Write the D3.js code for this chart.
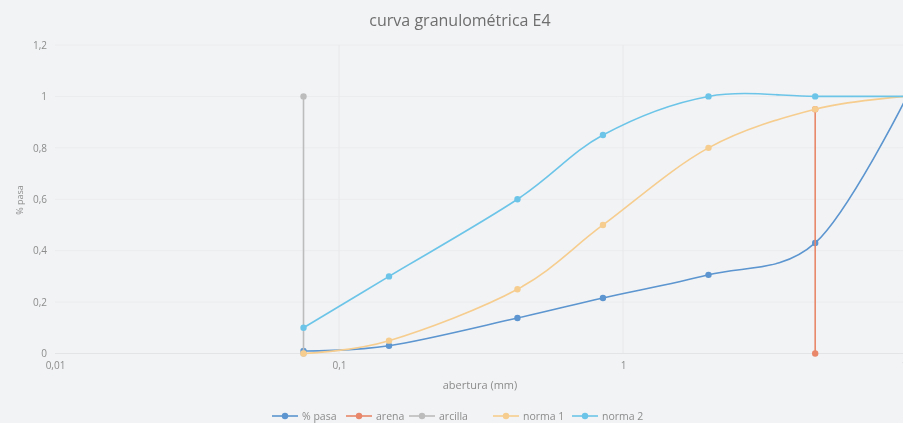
<!DOCTYPE html>
<html>
<head>
<meta charset="utf-8">
<script src="https://cdn.jsdelivr.net/npm/d3@7"></script>
<style>
  html, body { margin: 0; padding: 0; background: #f2f3f5; }
  svg { display: block; font-family: "Open Sans", "Noto Sans", sans-serif; }
</style>
</head>
<body>
<svg id="chart" width="903" height="423"></svg>
<script>
// Sieve openings (mm) and fraction passing
const aberturas = [0.075, 0.15, 0.425, 0.85, 2, 4.75, 10];
const pasa   = [0.01, 0.03, 0.138, 0.216, 0.306, 0.43, 1.0];
const norma1 = [0, 0.05, 0.25, 0.5, 0.8, 0.95, 1.0];
const norma2 = [0.1, 0.3, 0.6, 0.85, 1.0, 1.0, 1.0];
// Boundary markers: sand (4.75 mm) and clay (0.075 mm)
const arenaX = [4.75, 4.75];
const arenaY = [0, 0.95];
const arcillaX = [0.075, 0.075];
const arcillaY = [0, 1];

const xTicks = [0.01, 0.1, 1, 10];
const yTicks = [0, 0.2, 0.4, 0.6, 0.8, 1, 1.2];
const seriesNames = ["% pasa", "arena", "arcilla", "norma 1", "norma 2"];
const seriesColors = ["#5b95cf", "#e8876a", "#bcbcbc", "#f6cd8e", "#6cc5e8"];

const title = "curva granulométrica E4";
const xTitle = "abertura (mm)";
const yTitle = "% pasa";

const svg = d3.select("#chart");
const plotLeft = 55, plotRight = 907, plotTop = 45, plotBottom = 353.5;

const x = d3.scaleLog().domain([0.01, 10]).range([plotLeft, plotRight]);
const y = d3.scaleLinear().domain([0, 1.2]).range([plotBottom, plotTop]);

const defs = svg.append("defs");
defs.append("filter").attr("id", "soft")
  .append("feGaussianBlur").attr("stdDeviation", 0.4);

const root = svg.append("g").attr("filter", "url(#soft)");

// gridlines
root.append("g").selectAll("line").data(yTicks.slice(1)).join("line")
  .attr("x1", plotLeft).attr("x2", plotRight)
  .attr("y1", d => y(d)).attr("y2", d => y(d))
  .attr("stroke", "#ebecee").attr("stroke-width", 1);
root.append("g").selectAll("line").data(xTicks.slice(1)).join("line")
  .attr("y1", plotTop).attr("y2", plotBottom)
  .attr("x1", d => x(d)).attr("x2", d => x(d))
  .attr("stroke", "#e7e8ea").attr("stroke-width", 1);
// baseline
root.append("line").attr("x1", plotLeft).attr("x2", plotRight)
  .attr("y1", y(0)).attr("y2", y(0))
  .attr("stroke", "#e3e4e6").attr("stroke-width", 1);

const fmt = d => String(d).replace(".", ",");

// y axis
const yAxis = d3.axisLeft(y).tickValues(yTicks).tickFormat(fmt).tickSize(0).tickPadding(8);
const gy = root.append("g").attr("transform", `translate(${plotLeft},0)`).call(yAxis);
gy.select(".domain").remove();
gy.selectAll("text").attr("fill", "#8c8c8c").attr("font-size", 10)
  .attr("font-family", "Open Sans, sans-serif");

// x axis
const xAxis = d3.axisBottom(x).tickValues(xTicks).tickFormat(fmt).tickSize(0).tickPadding(8);
const gx = root.append("g").attr("transform", `translate(0,${plotBottom})`).call(xAxis);
gx.select(".domain").remove();
gx.selectAll("text").attr("fill", "#8c8c8c").attr("font-size", 10)
  .attr("font-family", "Open Sans, sans-serif");

// titles
root.append("text").attr("x", 460).attr("y", 26).attr("text-anchor", "middle")
  .attr("font-size", 16).attr("fill", "#6e6e6e").text(title);
root.append("text").attr("x", 480).attr("y", 389).attr("text-anchor", "middle")
  .attr("font-size", 11).attr("fill", "#8c8c8c").text(xTitle);
root.append("text").attr("transform", `translate(23,200) rotate(-90)`)
  .attr("text-anchor", "middle").attr("font-size", 9).attr("fill", "#8c8c8c").text(yTitle);

// series
const series = [
  { name: seriesNames[0], xs: aberturas, ys: pasa,     color: seriesColors[0] },
  { name: seriesNames[1], xs: arenaX,    ys: arenaY,   color: seriesColors[1] },
  { name: seriesNames[2], xs: arcillaX,  ys: arcillaY, color: seriesColors[2] },
  { name: seriesNames[3], xs: aberturas, ys: norma1,   color: seriesColors[3] },
  { name: seriesNames[4], xs: aberturas, ys: norma2,   color: seriesColors[4] }
];

const line = d3.line()
  .x(d => x(d[0])).y(d => y(d[1]))
  .curve(d3.curveCardinal.tension(0));

series.forEach(s => {
  const pts = s.xs.map((v, i) => [v, s.ys[i]]);
  const g = root.append("g");
  g.append("path").attr("d", line(pts)).attr("fill", "none")
    .attr("stroke", s.color).attr("stroke-width", 1.6);
  g.selectAll("circle").data(pts).join("circle")
    .attr("cx", d => x(d[0])).attr("cy", d => y(d[1])).attr("r", 3.2)
    .attr("fill", s.color);
});

// legend
const legendX = [272, 346, 409, 493, 572];
const leg = root.append("g").attr("transform", "translate(0,416)");
series.forEach((s, i) => {
  const g = leg.append("g").attr("transform", `translate(${legendX[i]},0)`);
  g.append("line").attr("x1", 0).attr("x2", 26).attr("y1", 0).attr("y2", 0)
    .attr("stroke", s.color).attr("stroke-width", 1.6);
  g.append("circle").attr("cx", 13).attr("cy", 0).attr("r", 3.2).attr("fill", s.color);
  g.append("text").attr("x", 30).attr("y", 3.5).attr("font-size", 10.5)
    .attr("fill", "#8c8c8c").text(s.name);
});
</script>
</body>
</html>
